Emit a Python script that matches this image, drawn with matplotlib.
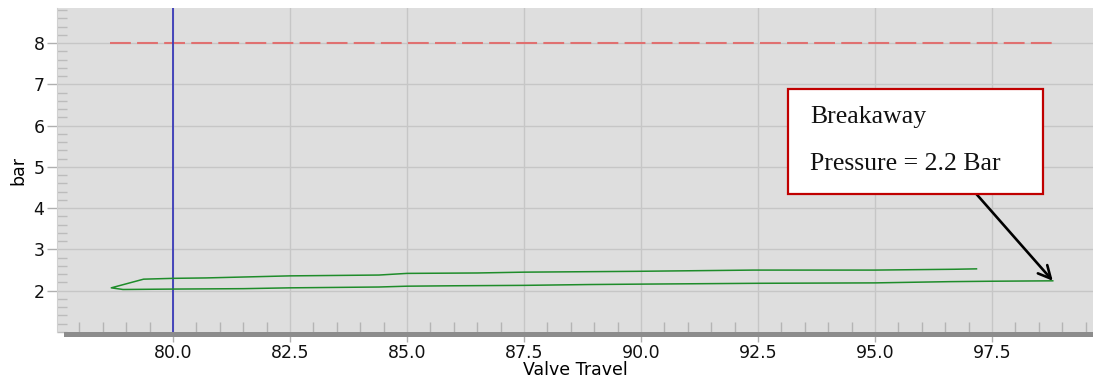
import numpy as np
import matplotlib
matplotlib.use("Agg")
import matplotlib.pyplot as plt
from matplotlib.patches import Rectangle
from matplotlib.ticker import MultipleLocator, FormatStrFormatter

# Valve signature: upper (opening) stroke and lower (closing) stroke
upper_travel = [79.37, 80.0, 80.7, 82.5, 84.4, 85.0, 86.5, 87.5, 89.9, 92.4, 95.0, 96.7, 97.17]
upper_bar = [2.28, 2.30, 2.31, 2.36, 2.38, 2.42, 2.43, 2.45, 2.47, 2.50, 2.50, 2.52, 2.53]
turn_travel = [78.68]
turn_bar = [2.07]
lower_travel = [78.93, 80.0, 81.5, 82.5, 84.4, 85.0, 86.0, 87.5, 88.9, 90.0, 92.5, 95.0, 96.6, 97.5, 98.8]
lower_bar = [2.03, 2.04, 2.05, 2.07, 2.09, 2.11, 2.12, 2.13, 2.15, 2.16, 2.18, 2.19, 2.22, 2.23, 2.24]

supply_bar = 8.0
supply_travel = [78.65, 98.85]
cursor_travel = 80.0
breakaway_bar = 2.2

x_ticks = [80.0, 82.5, 85.0, 87.5, 90.0, 92.5, 95.0, 97.5]
y_ticks = [2, 3, 4, 5, 6, 7, 8]

fig = plt.figure(figsize=(10.98, 3.79), dpi=100)
ax = fig.add_axes([57 / 1098, 47 / 379, 1036 / 1098, 324 / 379])
ax.set_facecolor("#dedede")
ax.set_xlim(77.52, 99.66)
ax.set_ylim(1.0, 8.85)

# grid
ax.set_xticks(x_ticks)
ax.set_yticks(y_ticks)
ax.xaxis.set_major_formatter(FormatStrFormatter("%.1f"))
ax.xaxis.set_minor_locator(MultipleLocator(0.5))
ax.yaxis.set_minor_locator(MultipleLocator(0.2))
ax.grid(True, which="major", color="#c6c6c6", linewidth=1.0)
ax.set_axisbelow(True)

for s in ["top", "right", "bottom"]:
    ax.spines[s].set_visible(False)
ax.spines["left"].set_color("#d0d0d0")
ax.spines["left"].set_linewidth(0.8)

ax.tick_params(axis="x", which="major", direction="out", length=7, width=1,
               color="#b0b0b0", labelsize=12.5, pad=2, labelcolor="#111111")
ax.tick_params(axis="x", which="minor", direction="in", length=7, width=1,
               color="#b4b4b4")
ax.tick_params(axis="y", which="major", direction="out", length=7, width=1,
               color="#b0b0b0", labelsize=12.5, pad=2, labelcolor="#111111")
ax.tick_params(axis="y", which="minor", direction="in", length=7, width=1,
               color="#bcbcbc")

# thick bottom axis bar
ax.add_patch(Rectangle((77.66, -0.016), 99.66 - 77.66, 0.016,
                       transform=ax.get_xaxis_transform(), clip_on=False,
                       facecolor="#8c8c8c", edgecolor="none", zorder=3))

# supply pressure
ax.plot(supply_travel, [supply_bar, supply_bar], color="#e07070", lw=1.5,
        dashes=(10, 3), zorder=2)

# cursor
ax.axvline(cursor_travel, color="#3a3ab8", lw=1.3, zorder=2)

# signature loop
loop_x = np.concatenate([upper_travel[::-1], turn_travel, lower_travel])
loop_y = np.concatenate([upper_bar[::-1], turn_bar, lower_bar])
ax.plot(loop_x, loop_y, color="#1e8c2a", lw=1.1, zorder=3)

ax.set_xlabel("Valve Travel", fontsize=12.5, labelpad=-1)
ax.set_ylabel("bar", fontsize=12.5, labelpad=4)

# annotation box
ax.add_patch(Rectangle((0.7056, 0.426), 0.9517 - 0.7056, 0.75 - 0.426,
                       transform=ax.transAxes, facecolor="white",
                       edgecolor="#c00000", lw=1.6, zorder=5))
ax.text(0.727, 0.645, "Breakaway", transform=ax.transAxes,
        family="Liberation Serif", fontsize=18.5, color="#111111",
        va="baseline", ha="left", zorder=6)
ax.text(0.727, 0.50, f"Pressure = {breakaway_bar} Bar", transform=ax.transAxes,
        family="Liberation Serif", fontsize=18.5, color="#111111",
        va="baseline", ha="left", zorder=6)

ax.annotate("", xy=(lower_travel[-1], lower_bar[-1]), xytext=(97.17, 4.34),
            arrowprops=dict(arrowstyle="->,head_length=0.9,head_width=0.45",
                            color="black", lw=1.9, shrinkA=0, shrinkB=0),
            zorder=4)

fig.savefig("out.png", dpi=100)
